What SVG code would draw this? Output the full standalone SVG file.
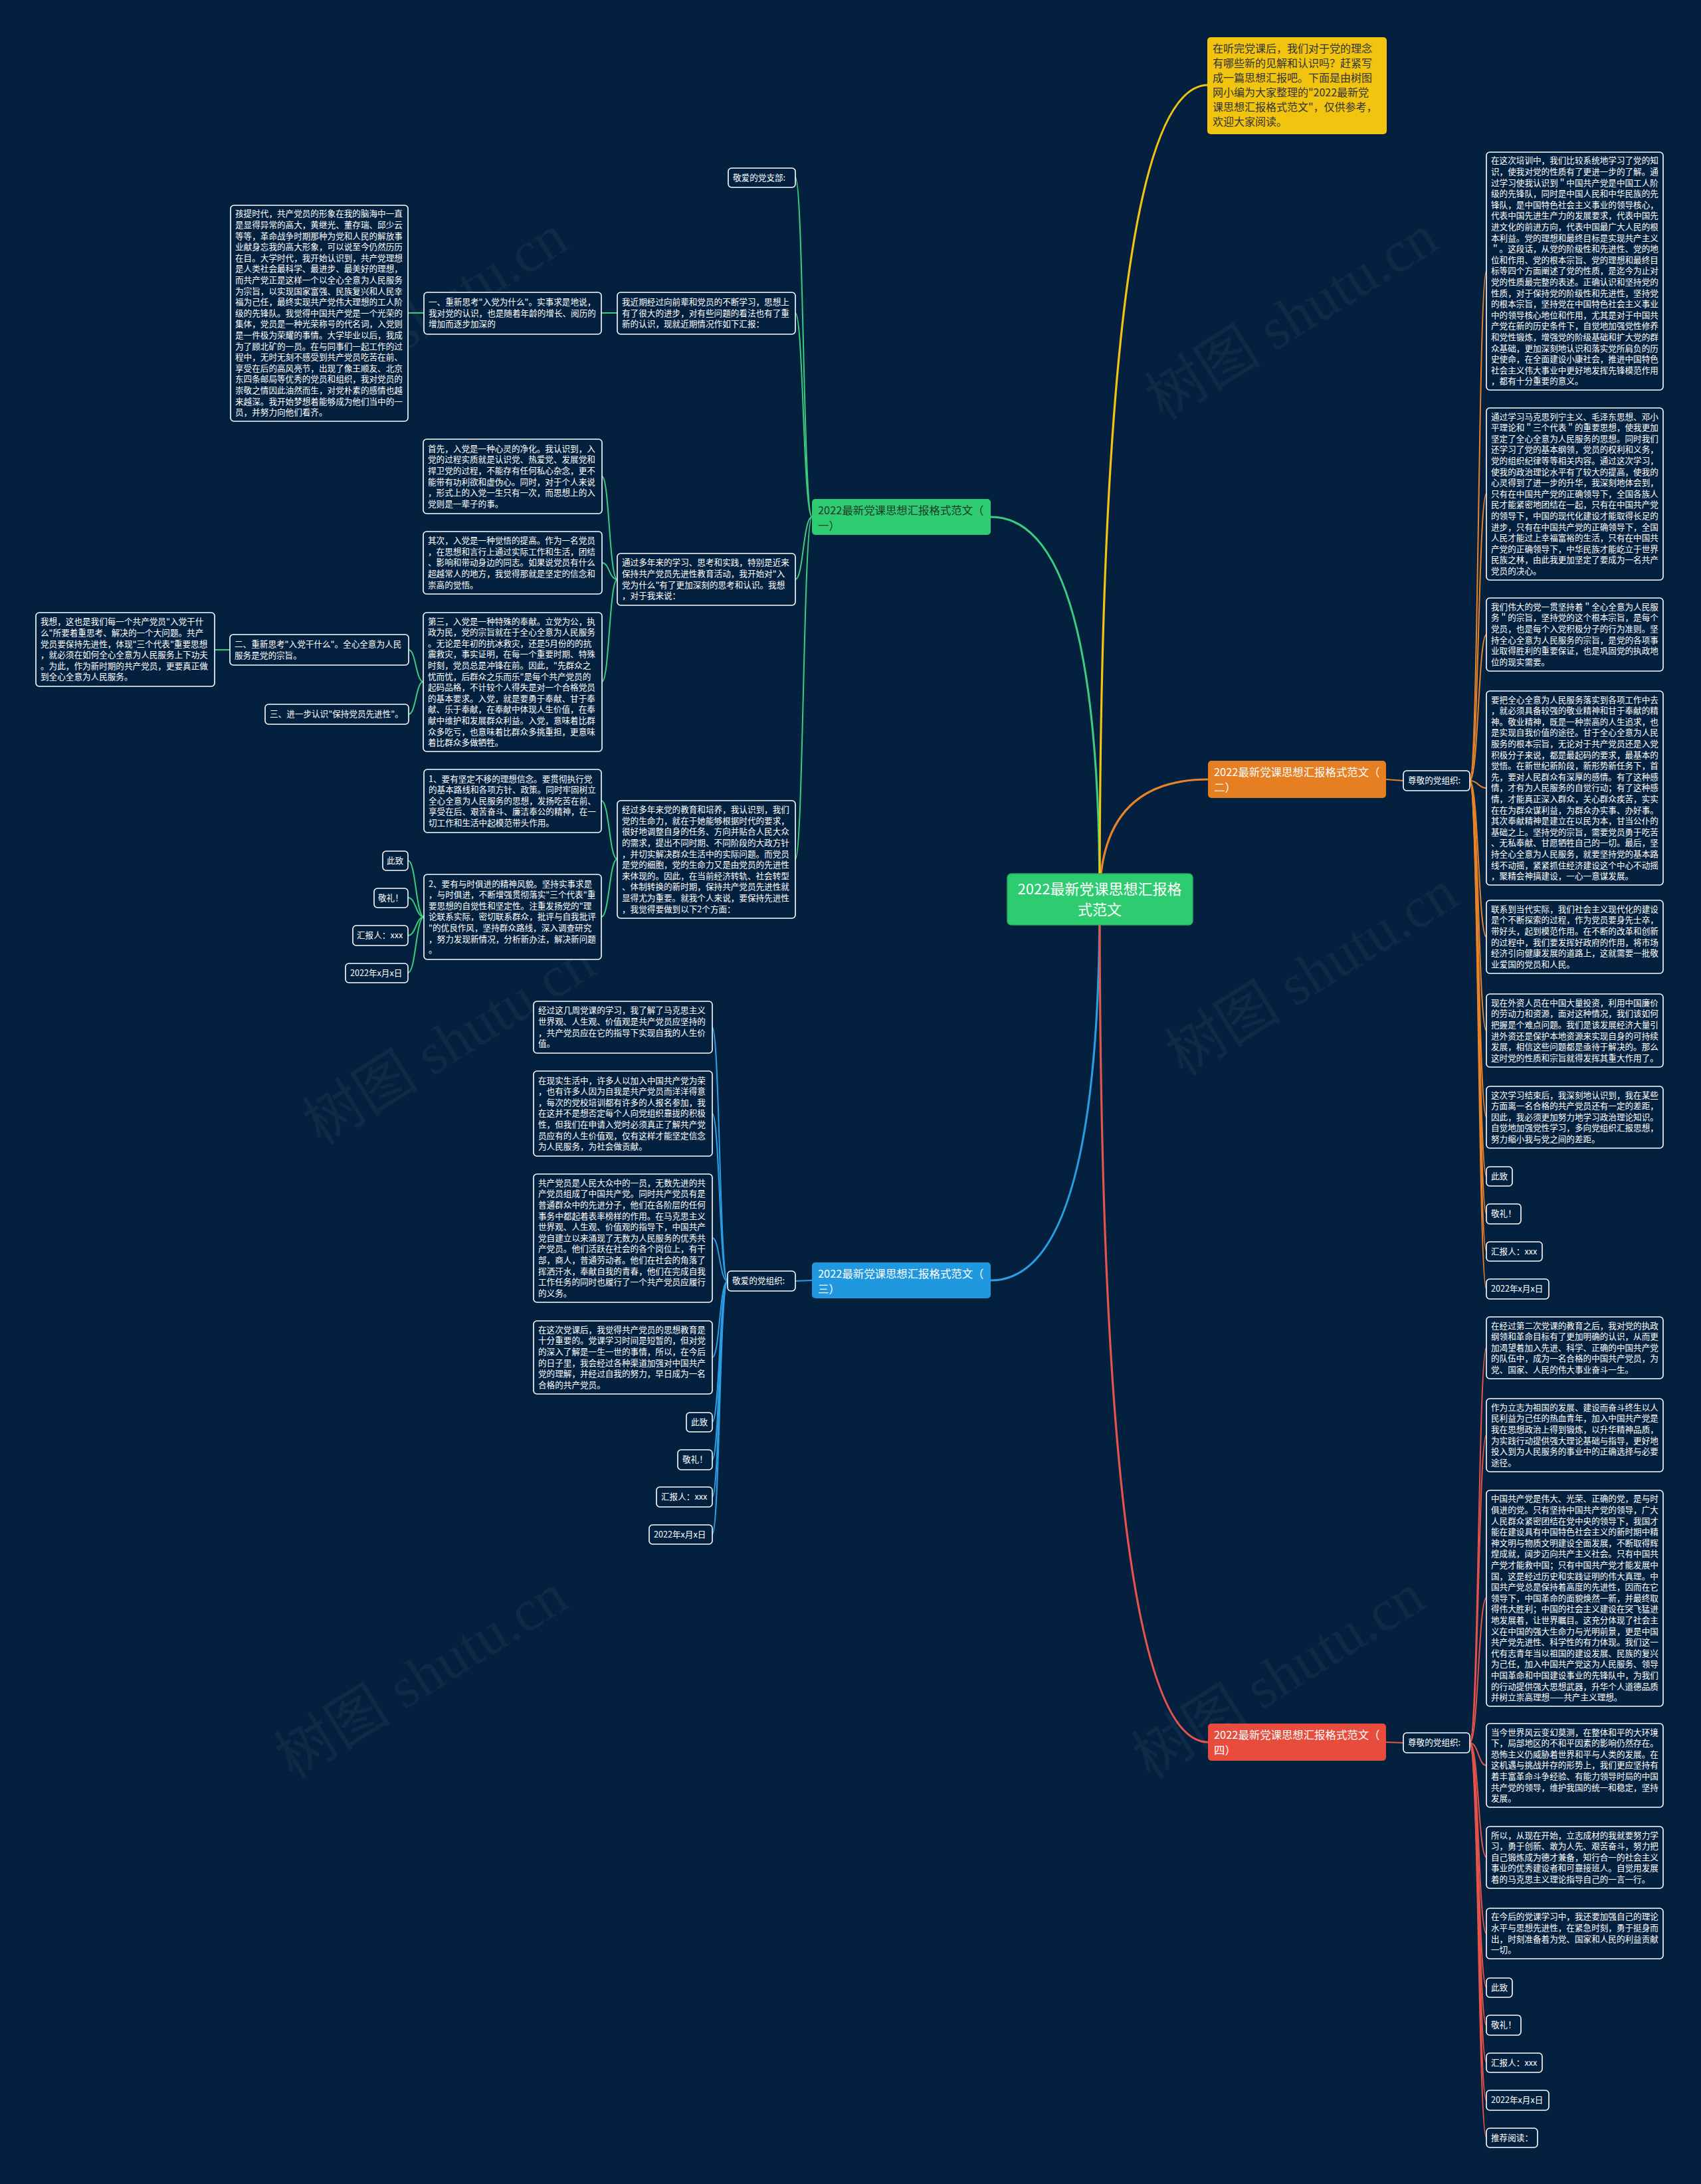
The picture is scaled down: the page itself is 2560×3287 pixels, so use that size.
<svg xmlns="http://www.w3.org/2000/svg" width="2560" height="3287" viewBox="0 0 2560 3287">
<style>
.bg{fill:#03213f}
.box{fill:#03213f;stroke:#ffffff;stroke-width:1.6}
.t{font-family:"Noto Sans CJK SC","Noto Sans",sans-serif;font-size:12.6px;fill:#ffffff}
.bt{font-family:"Noto Sans CJK SC","Noto Sans",sans-serif;font-size:16.4px}
.wm{font-family:"Liberation Serif","Noto Sans CJK SC",serif;font-size:88px;fill:#ffffff;fill-opacity:0.045}
.lg{fill:none;stroke:#3dcc7e;stroke-width:2}
.lo{fill:none;stroke:#e8832a;stroke-width:2}
.lb{fill:none;stroke:#2b9de3;stroke-width:2}
.lr{fill:none;stroke:#e5534a;stroke-width:2}
.main{stroke-width:3.2}
</style>
<rect class="bg" x="0" y="0" width="2560" height="3287"/>
<g id="watermarks">
<text class="wm" transform="translate(650,503) rotate(-32)" text-anchor="middle">树图 shutu.cn</text>
<text class="wm" transform="translate(1960,503) rotate(-32)" text-anchor="middle">树图 shutu.cn</text>
<text class="wm" transform="translate(692,1594) rotate(-32)" text-anchor="middle">树图 shutu.cn</text>
<text class="wm" transform="translate(1990,1490) rotate(-32)" text-anchor="middle">树图 shutu.cn</text>
<text class="wm" transform="translate(650,2548) rotate(-32)" text-anchor="middle">树图 shutu.cn</text>
<text class="wm" transform="translate(1940,2548) rotate(-32)" text-anchor="middle">树图 shutu.cn</text>
</g>
<g id="connectors">
<path class="lg main" d="M1655 1353 Q1655 778 1491 778"/>
<path class="lo main" d="M1655 1353 Q1655 1173 1818 1173"/>
<path class="lb main" d="M1655 1353 Q1655 1927 1491 1927"/>
<path class="lr main" d="M1655 1353 Q1655 2622 1818 2622"/>
<path fill="none" stroke="#f1c40f" stroke-width="3.2" d="M1655 1353 Q1655 128 1818 128"/>
<path class="lg" d="M1222 778 C1209 778 1209 267 1197 267"/>
<path class="lg" d="M1222 778 C1209 778 1209 471 1197 471"/>
<path class="lg" d="M1222 778 C1209 778 1209 872 1197 872"/>
<path class="lg" d="M1222 778 C1209 778 1209 1293 1197 1293"/>
<path class="lg" d="M929 471 L905 471"/>
<path class="lg" d="M638 471 L614 471"/>
<path class="lg" d="M929 872 C917 872 917 717 906 717"/>
<path class="lg" d="M929 872 C917 872 917 847 906 847"/>
<path class="lg" d="M929 872 C917 872 917 1026 906 1026"/>
<path class="lg" d="M637 1026 C626 1026 626 978 615 978"/>
<path class="lg" d="M637 1026 C626 1026 626 1075 615 1075"/>
<path class="lg" d="M346 978 L323 978"/>
<path class="lg" d="M929 1293 C917 1293 917 1205 905 1205"/>
<path class="lg" d="M929 1293 C917 1293 917 1380 905 1380"/>
<path class="lg" d="M638 1380 C626 1380 626 1295 614 1295"/>
<path class="lg" d="M638 1380 C626 1380 626 1351 614 1351"/>
<path class="lg" d="M638 1380 C626 1380 626 1408 614 1408"/>
<path class="lg" d="M638 1380 C626 1380 626 1464 614 1464"/>
<path class="lb" d="M1222 1927 L1197 1928"/>
<path class="lb" d="M1095 1928 C1083 1928 1083 1546 1072 1546"/>
<path class="lb" d="M1095 1928 C1083 1928 1083 1676 1072 1676"/>
<path class="lb" d="M1095 1928 C1083 1928 1083 1863 1072 1863"/>
<path class="lb" d="M1095 1928 C1083 1928 1083 2043 1072 2043"/>
<path class="lb" d="M1095 1928 C1083 1928 1083 2140 1072 2140"/>
<path class="lb" d="M1095 1928 C1083 1928 1083 2197 1072 2197"/>
<path class="lb" d="M1095 1928 C1083 1928 1083 2253 1072 2253"/>
<path class="lb" d="M1095 1928 C1083 1928 1083 2309 1072 2309"/>
<path class="lo" d="M2086 1173 L2112 1175"/>
<path class="lo" d="M2212 1175 C2225 1175 2225 408 2237 408"/>
<path class="lo" d="M2212 1175 C2225 1175 2225 743 2237 743"/>
<path class="lo" d="M2212 1175 C2225 1175 2225 955 2237 955"/>
<path class="lo" d="M2212 1175 C2225 1175 2225 1186 2237 1186"/>
<path class="lo" d="M2212 1175 C2225 1175 2225 1410 2237 1410"/>
<path class="lo" d="M2212 1175 C2225 1175 2225 1551 2237 1551"/>
<path class="lo" d="M2212 1175 C2225 1175 2225 1681 2237 1681"/>
<path class="lo" d="M2212 1175 C2225 1175 2225 1770 2237 1770"/>
<path class="lo" d="M2212 1175 C2225 1175 2225 1827 2237 1827"/>
<path class="lo" d="M2212 1175 C2225 1175 2225 1883 2237 1883"/>
<path class="lo" d="M2212 1175 C2225 1175 2225 1940 2237 1940"/>
<path class="lr" d="M2086 2622 L2112 2623"/>
<path class="lr" d="M2212 2623 C2225 2623 2225 2028 2237 2028"/>
<path class="lr" d="M2212 2623 C2225 2623 2225 2160 2237 2160"/>
<path class="lr" d="M2212 2623 C2225 2623 2225 2405 2237 2405"/>
<path class="lr" d="M2212 2623 C2225 2623 2225 2657 2237 2657"/>
<path class="lr" d="M2212 2623 C2225 2623 2225 2795 2237 2795"/>
<path class="lr" d="M2212 2623 C2225 2623 2225 2910 2237 2910"/>
<path class="lr" d="M2212 2623 C2225 2623 2225 2991 2237 2991"/>
<path class="lr" d="M2212 2623 C2225 2623 2225 3048 2237 3048"/>
<path class="lr" d="M2212 2623 C2225 2623 2225 3104 2237 3104"/>
<path class="lr" d="M2212 2623 C2225 2623 2225 3161 2237 3161"/>
<path class="lr" d="M2212 2623 C2225 2623 2225 3217 2237 3217"/>
</g>

<g id="root">
<rect x="1516" y="1315" width="279" height="77" rx="6" fill="#2ecc71" stroke="#27ae60" stroke-width="1.5"/>
<text font-family="Noto Sans CJK SC, sans-serif" font-size="22" fill="#ffffff" text-anchor="middle"><tspan x="1655" y="1346">2022最新党课思想汇报格</tspan><tspan x="1655" y="1377">式范文</tspan></text>
</g>
<g id="intro">
<rect x="1817" y="56" width="270" height="146" rx="5" fill="#f1c40f"/>
<text font-family="Noto Sans CJK SC, sans-serif" font-size="16" fill="#333333"><tspan x="1825" y="79">在听完党课后，我们对于党的理念</tspan><tspan x="1825" dy="21.9">有哪些新的见解和认识吗？赶紧写</tspan><tspan x="1825" dy="21.9">成一篇思想汇报吧。下面是由树图</tspan><tspan x="1825" dy="21.9">网小编为大家整理的"2022最新党</tspan><tspan x="1825" dy="21.9">课思想汇报格式范文"，仅供参考，</tspan><tspan x="1825" dy="21.9">欢迎大家阅读。</tspan></text>
</g>

<g id="b1">
<rect x="1222" y="751" width="269" height="54" rx="5" fill="#2ecc71"/>
<text class="bt" fill="#1d3a2a"><tspan x="1231" y="773.5">2022最新党课思想汇报格式范文（</tspan><tspan x="1231" dy="23">一）</tspan></text>
</g>
<g id="b2">
<rect x="1818" y="1145" width="268" height="56" rx="5" fill="#e67e22"/>
<text class="bt" fill="#ffffff"><tspan x="1827" y="1167.5">2022最新党课思想汇报格式范文（</tspan><tspan x="1827" dy="23">二）</tspan></text>
</g>
<g id="b3">
<rect x="1222" y="1900" width="269" height="54" rx="5" fill="#1f98e0"/>
<text class="bt" fill="#ffffff"><tspan x="1231" y="1922.5">2022最新党课思想汇报格式范文（</tspan><tspan x="1231" dy="23">三）</tspan></text>
</g>
<g id="b4">
<rect x="1818" y="2594" width="268" height="56" rx="5" fill="#e74c3c"/>
<text class="bt" fill="#ffffff"><tspan x="1827" y="2616.5">2022最新党课思想汇报格式范文（</tspan><tspan x="1827" dy="23">四）</tspan></text>
</g>

<g id="n1a"><rect class="box" x="1096" y="253" width="101" height="29" rx="5"/><text class="t"><tspan x="1103" y="271.8">敬爱的党支部:</tspan></text></g>
<g id="n1b"><rect class="box" x="929" y="440" width="268" height="63" rx="5"/><text class="t"><tspan x="936" y="459.2">我近期经过向前辈和党员的不断学习，思想上</tspan><tspan x="936" dy="16.6">有了很大的进步，对有些问题的看法也有了重</tspan><tspan x="936" dy="16.6">新的认识，现就近期情况作如下汇报：</tspan></text></g>
<g id="n1c"><rect class="box" x="638" y="440" width="267" height="63" rx="5"/><text class="t"><tspan x="645" y="459.2">一、重新思考"入党为什么"。实事求是地说，</tspan><tspan x="645" dy="16.6">我对党的认识，也是随着年龄的增长、阅历的</tspan><tspan x="645" dy="16.6">增加而逐步加深的</tspan></text></g>
<g id="n1d"><rect class="box" x="347" y="309" width="267" height="325" rx="5"/><text class="t"><tspan x="354" y="326.4">孩提时代，共产党员的形象在我的脑海中一直</tspan><tspan x="354" dy="16.6">是显得异常的高大，黄继光、董存瑞、邱少云</tspan><tspan x="354" dy="16.6">等等，革命战争时期那种为党和人民的解放事</tspan><tspan x="354" dy="16.6">业献身忘我的高大形象，可以说至今仍然历历</tspan><tspan x="354" dy="16.6">在目。大学时代，我开始认识到，共产党理想</tspan><tspan x="354" dy="16.6">是人类社会最科学、最进步、最美好的理想，</tspan><tspan x="354" dy="16.6">而共产党正是这样一个以全心全意为人民服务</tspan><tspan x="354" dy="16.6">为宗旨，以实现国家富强、民族复兴和人民幸</tspan><tspan x="354" dy="16.6">福为己任，最终实现共产党伟大理想的工人阶</tspan><tspan x="354" dy="16.6">级的先锋队。我觉得中国共产党是一个光荣的</tspan><tspan x="354" dy="16.6">集体，党员是一种光荣称号的代名词，入党则</tspan><tspan x="354" dy="16.6">是一件极为荣耀的事情。大学毕业以后，我成</tspan><tspan x="354" dy="16.6">为了顾北矿的一员。在与同事们一起工作的过</tspan><tspan x="354" dy="16.6">程中，无时无刻不感受到共产党员吃苦在前、</tspan><tspan x="354" dy="16.6">享受在后的高风亮节，出现了像王顺友、北京</tspan><tspan x="354" dy="16.6">东四条邮局等优秀的党员和组织，我对党员的</tspan><tspan x="354" dy="16.6">崇敬之情因此油然而生，对党朴素的感情也越</tspan><tspan x="354" dy="16.6">来越深。我开始梦想着能够成为他们当中的一</tspan><tspan x="354" dy="16.6">员，并努力向他们看齐。</tspan></text></g>
<g id="n1e"><rect class="box" x="929" y="833" width="268" height="78" rx="5"/><text class="t"><tspan x="936" y="851.4">通过多年来的学习、思考和实践，特别是近来</tspan><tspan x="936" dy="16.6">保持共产党员先进性教育活动，我开始对"入</tspan><tspan x="936" dy="16.6">党为什么"有了更加深刻的思考和认识。我想</tspan><tspan x="936" dy="16.6">，对于我来说：</tspan></text></g>
<g id="n1f"><rect class="box" x="637" y="661" width="269" height="112" rx="5"/><text class="t"><tspan x="644" y="679.8">首先，入党是一种心灵的净化。我认识到，入</tspan><tspan x="644" dy="16.6">党的过程实质就是认识党、热爱党、发展党和</tspan><tspan x="644" dy="16.6">捍卫党的过程，不能存有任何私心杂念，更不</tspan><tspan x="644" dy="16.6">能带有功利欲和虚伪心。同时，对于个人来说</tspan><tspan x="644" dy="16.6">，形式上的入党一生只有一次，而思想上的入</tspan><tspan x="644" dy="16.6">党则是一辈子的事。</tspan></text></g>
<g id="n1g"><rect class="box" x="637" y="800" width="269" height="94" rx="5"/><text class="t"><tspan x="644" y="818.1">其次，入党是一种觉悟的提高。作为一名党员</tspan><tspan x="644" dy="16.6">，在思想和言行上通过实际工作和生活，团结</tspan><tspan x="644" dy="16.6">、影响和带动身边的同志。如果说党员有什么</tspan><tspan x="644" dy="16.6">超越常人的地方，我觉得那就是坚定的信念和</tspan><tspan x="644" dy="16.6">崇高的觉悟。</tspan></text></g>
<g id="n1h"><rect class="box" x="637" y="922" width="269" height="209" rx="5"/><text class="t"><tspan x="644" y="939.5">第三，入党是一种特殊的奉献。立党为公，执</tspan><tspan x="644" dy="16.6">政为民，党的宗旨就在于全心全意为人民服务</tspan><tspan x="644" dy="16.6">。无论是年初的抗冰救灾，还是5月份的的抗</tspan><tspan x="644" dy="16.6">震救灾，事实证明，在每一个重要时期、特殊</tspan><tspan x="644" dy="16.6">时刻，党员总是冲锋在前。因此，"先群众之</tspan><tspan x="644" dy="16.6">忧而忧，后群众之乐而乐"是每个共产党员的</tspan><tspan x="644" dy="16.6">起码品格，不计较个人得失是对一个合格党员</tspan><tspan x="644" dy="16.6">的基本要求。入党，就是要勇于奉献、甘于奉</tspan><tspan x="644" dy="16.6">献、乐于奉献，在奉献中体现人生价值，在奉</tspan><tspan x="644" dy="16.6">献中维护和发展群众利益。入党，意味着比群</tspan><tspan x="644" dy="16.6">众多吃亏，也意味着比群众多挑重担，更意味</tspan><tspan x="644" dy="16.6">着比群众多做牺牲。</tspan></text></g>
<g id="n1i"><rect class="box" x="346" y="955" width="269" height="46" rx="5"/><text class="t"><tspan x="353" y="974">二、重新思考"入党干什么"。全心全意为人民</tspan><tspan x="353" dy="16.6">服务是党的宗旨。</tspan></text></g>
<g id="n1j"><rect class="box" x="399" y="1060" width="216" height="30" rx="5"/><text class="t"><tspan x="406" y="1079.3">三、进一步认识"保持党员先进性"。</tspan></text></g>
<g id="n1k"><rect class="box" x="54" y="922" width="269" height="111" rx="5"/><text class="t"><tspan x="61" y="940.3">我想，这也是我们每一个共产党员"入党干什</tspan><tspan x="61" dy="16.6">么"所要着重思考、解决的一个大问题。共产</tspan><tspan x="61" dy="16.6">党员要保持先进性，体现"三个代表"重要思想</tspan><tspan x="61" dy="16.6">，就必须在如何全心全意为人民服务上下功夫</tspan><tspan x="61" dy="16.6">。为此，作为新时期的共产党员，更要真正做</tspan><tspan x="61" dy="16.6">到全心全意为人民服务。</tspan></text></g>
<g id="n1l"><rect class="box" x="929" y="1205" width="268" height="177" rx="5"/><text class="t"><tspan x="936" y="1223.1">经过多年来党的教育和培养，我认识到，我们</tspan><tspan x="936" dy="16.6">党的生命力，就在于她能够根据时代的要求，</tspan><tspan x="936" dy="16.6">很好地调整自身的任务、方向并贴合人民大众</tspan><tspan x="936" dy="16.6">的需求，提出不同时期、不同阶段的大政方针</tspan><tspan x="936" dy="16.6">，并切实解决群众生活中的实际问题。而党员</tspan><tspan x="936" dy="16.6">是党的细胞，党的生命力又是由党员的先进性</tspan><tspan x="936" dy="16.6">来体现的。因此，在当前经济转轨、社会转型</tspan><tspan x="936" dy="16.6">、体制转换的新时期，保持共产党员先进性就</tspan><tspan x="936" dy="16.6">显得尤为重要。就我个人来说，要保持先进性</tspan><tspan x="936" dy="16.6">，我觉得要做到以下2个方面：</tspan></text></g>
<g id="n1m"><rect class="box" x="638" y="1158" width="267" height="95" rx="5"/><text class="t"><tspan x="645" y="1176.6">1、要有坚定不移的理想信念。要贯彻执行党</tspan><tspan x="645" dy="16.6">的基本路线和各项方针、政策。同时牢固树立</tspan><tspan x="645" dy="16.6">全心全意为人民服务的思想，发扬吃苦在前、</tspan><tspan x="645" dy="16.6">享受在后、艰苦奋斗、廉洁奉公的精神，在一</tspan><tspan x="645" dy="16.6">切工作和生活中起模范带头作用。</tspan></text></g>
<g id="n1n"><rect class="box" x="638" y="1316" width="267" height="128" rx="5"/><text class="t"><tspan x="645" y="1334.5">2、要有与时俱进的精神风貌。坚持实事求是</tspan><tspan x="645" dy="16.6">，与时俱进，不断增强贯彻落实"三个代表"重</tspan><tspan x="645" dy="16.6">要思想的自觉性和坚定性。注重发扬党的"理</tspan><tspan x="645" dy="16.6">论联系实际，密切联系群众，批评与自我批评</tspan><tspan x="645" dy="16.6">"的优良作风，坚持群众路线，深入调查研究</tspan><tspan x="645" dy="16.6">，努力发现新情况，分析新办法，解决新问题</tspan><tspan x="645" dy="16.6">。</tspan></text></g>
<g id="n1o"><rect class="box" x="576" y="1281" width="38" height="29" rx="5"/><text class="t"><tspan x="582" y="1299.8">此致</tspan></text></g>
<g id="n1p"><rect class="box" x="563" y="1337" width="51" height="29" rx="5"/><text class="t"><tspan x="569" y="1355.8">敬礼！</tspan></text></g>
<g id="n1q"><rect class="box" x="531" y="1393" width="83" height="30" rx="5"/><text class="t"><tspan x="537" y="1412.3">汇报人：xxx</tspan></text></g>
<g id="n1r"><rect class="box" x="520" y="1450" width="94" height="29" rx="5"/><text class="t"><tspan x="527" y="1468.8">2022年x月x日</tspan></text></g>

<g id="n3a"><rect class="box" x="1095" y="1913" width="102" height="30" rx="5"/><text class="t"><tspan x="1102" y="1932.3">敬爱的党组织:</tspan></text></g>
<g id="n3b"><rect class="box" x="803" y="1507" width="269" height="78" rx="5"/><text class="t"><tspan x="810" y="1525.4">经过这几周党课的学习，我了解了马克思主义</tspan><tspan x="810" dy="16.6">世界观、人生观、价值观是共产党员应坚持的</tspan><tspan x="810" dy="16.6">，共产党员应在它的指导下实现自我的人生价</tspan><tspan x="810" dy="16.6">值。</tspan></text></g>
<g id="n3c"><rect class="box" x="803" y="1612" width="269" height="128" rx="5"/><text class="t"><tspan x="810" y="1630.5">在现实生活中，许多人以加入中国共产党为荣</tspan><tspan x="810" dy="16.6">，也有许多人因为自我是共产党员而洋洋得意</tspan><tspan x="810" dy="16.6">，每次的党校培训都有许多的人报名参加，我</tspan><tspan x="810" dy="16.6">在这并不是想否定每个人向党组织靠拢的积极</tspan><tspan x="810" dy="16.6">性，但我们在申请入党时必须真正了解共产党</tspan><tspan x="810" dy="16.6">员应有的人生价值观，仅有这样才能坚定信念</tspan><tspan x="810" dy="16.6">为人民服务，为社会做贡献。</tspan></text></g>
<g id="n3d"><rect class="box" x="803" y="1767" width="269" height="193" rx="5"/><text class="t"><tspan x="810" y="1784.8">共产党员是人民大众中的一员，无数先进的共</tspan><tspan x="810" dy="16.6">产党员组成了中国共产党。同时共产党员有是</tspan><tspan x="810" dy="16.6">普通群众中的先进分子，他们在各阶层的任何</tspan><tspan x="810" dy="16.6">事务中都起着表率榜样的作用。在马克思主义</tspan><tspan x="810" dy="16.6">世界观、人生观、价值观的指导下，中国共产</tspan><tspan x="810" dy="16.6">党自建立以来涌现了无数为人民服务的优秀共</tspan><tspan x="810" dy="16.6">产党员。他们活跃在社会的各个岗位上，有干</tspan><tspan x="810" dy="16.6">部，商人，普通劳动者。他们在社会的角落了</tspan><tspan x="810" dy="16.6">挥洒汗水，奉献自我的青春，他们在完成自我</tspan><tspan x="810" dy="16.6">工作任务的同时也履行了一个共产党员应履行</tspan><tspan x="810" dy="16.6">的义务。</tspan></text></g>
<g id="n3e"><rect class="box" x="803" y="1988" width="269" height="110" rx="5"/><text class="t"><tspan x="810" y="2005.8">在这次党课后，我觉得共产党员的思想教育是</tspan><tspan x="810" dy="16.6">十分重要的。党课学习时间是短暂的，但对党</tspan><tspan x="810" dy="16.6">的深入了解是一生一世的事情，所以，在今后</tspan><tspan x="810" dy="16.6">的日子里，我会经过各种渠道加强对中国共产</tspan><tspan x="810" dy="16.6">党的理解，并经过自我的努力，早日成为一名</tspan><tspan x="810" dy="16.6">合格的共产党员。</tspan></text></g>
<g id="n3f"><rect class="box" x="1033" y="2126" width="39" height="29" rx="5"/><text class="t"><tspan x="1040" y="2144.8">此致</tspan></text></g>
<g id="n3g"><rect class="box" x="1020" y="2182" width="52" height="30" rx="5"/><text class="t"><tspan x="1027" y="2201.3">敬礼！</tspan></text></g>
<g id="n3h"><rect class="box" x="988" y="2238" width="84" height="30" rx="5"/><text class="t"><tspan x="995" y="2257.3">汇报人：xxx</tspan></text></g>
<g id="n3i"><rect class="box" x="977" y="2295" width="95" height="29" rx="5"/><text class="t"><tspan x="984" y="2313.8">2022年x月x日</tspan></text></g>

<g id="n2a"><rect class="box" x="2112" y="1160" width="100" height="30" rx="5"/><text class="t"><tspan x="2119" y="1179.3">尊敬的党组织:</tspan></text></g>
<g id="n2b"><rect class="box" x="2237" y="229" width="266" height="358" rx="5"/><text class="t"><tspan x="2244" y="246.3">在这次培训中，我们比较系统地学习了党的知</tspan><tspan x="2244" dy="16.6">识，使我对党的性质有了更进一步的了解。通</tspan><tspan x="2244" dy="16.6">过学习使我认识到＂中国共产党是中国工人阶</tspan><tspan x="2244" dy="16.6">级的先锋队，同时是中国人民和中华民族的先</tspan><tspan x="2244" dy="16.6">锋队，是中国特色社会主义事业的领导核心，</tspan><tspan x="2244" dy="16.6">代表中国先进生产力的发展要求，代表中国先</tspan><tspan x="2244" dy="16.6">进文化的前进方向，代表中国最广大人民的根</tspan><tspan x="2244" dy="16.6">本利益。党的理想和最终目标是实现共产主义</tspan><tspan x="2244" dy="16.6">＂。这段话，从党的阶级性和先进性、党的地</tspan><tspan x="2244" dy="16.6">位和作用、党的根本宗旨、党的理想和最终目</tspan><tspan x="2244" dy="16.6">标等四个方面阐述了党的性质，是迄今为止对</tspan><tspan x="2244" dy="16.6">党的性质最完整的表述。正确认识和坚持党的</tspan><tspan x="2244" dy="16.6">性质，对于保持党的阶级性和先进性，坚持党</tspan><tspan x="2244" dy="16.6">的根本宗旨，坚持党在中国特色社会主义事业</tspan><tspan x="2244" dy="16.6">中的领导核心地位和作用，尤其是对于中国共</tspan><tspan x="2244" dy="16.6">产党在新的历史条件下，自觉地加强党性修养</tspan><tspan x="2244" dy="16.6">和党性锻炼，增强党的阶级基础和扩大党的群</tspan><tspan x="2244" dy="16.6">众基础，更加深刻地认识和落实党所肩负的历</tspan><tspan x="2244" dy="16.6">史使命，在全面建设小康社会，推进中国特色</tspan><tspan x="2244" dy="16.6">社会主义伟大事业中更好地发挥先锋模范作用</tspan><tspan x="2244" dy="16.6">，都有十分重要的意义。</tspan></text></g>
<g id="n2c"><rect class="box" x="2237" y="614" width="266" height="259" rx="5"/><text class="t"><tspan x="2244" y="631.6">通过学习马克思列宁主义、毛泽东思想、邓小</tspan><tspan x="2244" dy="16.6">平理论和＂三个代表＂的重要思想，使我更加</tspan><tspan x="2244" dy="16.6">坚定了全心全意为人民服务的思想。同时我们</tspan><tspan x="2244" dy="16.6">还学习了党的基本纲领，党员的权利和义务，</tspan><tspan x="2244" dy="16.6">党的组织纪律等等相关内容。通过这次学习，</tspan><tspan x="2244" dy="16.6">使我的政治理论水平有了较大的提高，使我的</tspan><tspan x="2244" dy="16.6">心灵得到了进一步的升华，我深刻地体会到，</tspan><tspan x="2244" dy="16.6">只有在中国共产党的正确领导下，全国各族人</tspan><tspan x="2244" dy="16.6">民才能紧密地团结在一起，只有在中国共产党</tspan><tspan x="2244" dy="16.6">的领导下，中国的现代化建设才能取得长足的</tspan><tspan x="2244" dy="16.6">进步，只有在中国共产党的正确领导下，全国</tspan><tspan x="2244" dy="16.6">人民才能过上幸福富裕的生活，只有在中国共</tspan><tspan x="2244" dy="16.6">产党的正确领导下，中华民族才能屹立于世界</tspan><tspan x="2244" dy="16.6">民族之林，由此我更加坚定了要成为一名共产</tspan><tspan x="2244" dy="16.6">党员的决心。</tspan></text></g>
<g id="n2d"><rect class="box" x="2237" y="900" width="266" height="110" rx="5"/><text class="t"><tspan x="2244" y="917.8">我们伟大的党一贯坚持着＂全心全意为人民服</tspan><tspan x="2244" dy="16.6">务＂的宗旨，坚持党的这个根本宗旨，是每个</tspan><tspan x="2244" dy="16.6">党员，也是每个入党积极分子的行为准则。坚</tspan><tspan x="2244" dy="16.6">持全心全意为人民服务的宗旨，是党的各项事</tspan><tspan x="2244" dy="16.6">业取得胜利的重要保证，也是巩固党的执政地</tspan><tspan x="2244" dy="16.6">位的现实需要。</tspan></text></g>
<g id="n2e"><rect class="box" x="2237" y="1040" width="266" height="292" rx="5"/><text class="t"><tspan x="2244" y="1057.5">要把全心全意为人民服务落实到各项工作中去</tspan><tspan x="2244" dy="16.6">，就必须具备较强的敬业精神和甘于奉献的精</tspan><tspan x="2244" dy="16.6">神。敬业精神，既是一种崇高的人生追求，也</tspan><tspan x="2244" dy="16.6">是实现自我价值的途径。甘于全心全意为人民</tspan><tspan x="2244" dy="16.6">服务的根本宗旨，无论对于共产党员还是入党</tspan><tspan x="2244" dy="16.6">积极分子来说，都是最起码的要求，最基本的</tspan><tspan x="2244" dy="16.6">觉悟。在新世纪新阶段，新形势新任务下，首</tspan><tspan x="2244" dy="16.6">先，要对人民群众有深厚的感情。有了这种感</tspan><tspan x="2244" dy="16.6">情，才有为人民服务的自觉行动；有了这种感</tspan><tspan x="2244" dy="16.6">情，才能真正深入群众，关心群众疾苦，实实</tspan><tspan x="2244" dy="16.6">在在为群众谋利益，为群众办实事、办好事。</tspan><tspan x="2244" dy="16.6">其次奉献精神是建立在以民为本，甘当公仆的</tspan><tspan x="2244" dy="16.6">基础之上。坚持党的宗旨，需要党员勇于吃苦</tspan><tspan x="2244" dy="16.6">、无私奉献、甘愿牺牲自己的一切。最后，坚</tspan><tspan x="2244" dy="16.6">持全心全意为人民服务，就要坚持党的基本路</tspan><tspan x="2244" dy="16.6">线不动摇，紧紧抓住经济建设这个中心不动摇</tspan><tspan x="2244" dy="16.6">，聚精会神搞建设，一心一意谋发展。</tspan></text></g>
<g id="n2f"><rect class="box" x="2237" y="1355" width="266" height="110" rx="5"/><text class="t"><tspan x="2244" y="1372.8">联系到当代实际，我们社会主义现代化的建设</tspan><tspan x="2244" dy="16.6">是个不断探索的过程，作为党员要身先士卒，</tspan><tspan x="2244" dy="16.6">带好头，起到模范作用。在不断的改革和创新</tspan><tspan x="2244" dy="16.6">的过程中，我们要发挥好政府的作用，将市场</tspan><tspan x="2244" dy="16.6">经济引向健康发展的道路上，这就需要一批敬</tspan><tspan x="2244" dy="16.6">业爱国的党员和人民。</tspan></text></g>
<g id="n2g"><rect class="box" x="2237" y="1496" width="266" height="110" rx="5"/><text class="t"><tspan x="2244" y="1513.8">现在外资人员在中国大量投资，利用中国廉价</tspan><tspan x="2244" dy="16.6">的劳动力和资源，面对这种情况，我们该如何</tspan><tspan x="2244" dy="16.6">把握是个难点问题。我们是该发展经济大量引</tspan><tspan x="2244" dy="16.6">进外资还是保护本地资源来实现自身的可持续</tspan><tspan x="2244" dy="16.6">发展，相信这些问题都是亟待于解决的。那么</tspan><tspan x="2244" dy="16.6">这时党的性质和宗旨就得发挥其重大作用了。</tspan></text></g>
<g id="n2h"><rect class="box" x="2237" y="1635" width="266" height="93" rx="5"/><text class="t"><tspan x="2244" y="1652.6">这次学习结束后，我深刻地认识到，我在某些</tspan><tspan x="2244" dy="16.6">方面离一名合格的共产党员还有一定的差距，</tspan><tspan x="2244" dy="16.6">因此，我必须更加努力地学习政治理论知识。</tspan><tspan x="2244" dy="16.6">自觉地加强党性学习，多向党组织汇报思想，</tspan><tspan x="2244" dy="16.6">努力缩小我与党之间的差距。</tspan></text></g>
<g id="n2i"><rect class="box" x="2237" y="1756" width="39" height="29" rx="5"/><text class="t"><tspan x="2244" y="1774.8">此致</tspan></text></g>
<g id="n2j"><rect class="box" x="2237" y="1812" width="52" height="30" rx="5"/><text class="t"><tspan x="2244" y="1831.3">敬礼！</tspan></text></g>
<g id="n2k"><rect class="box" x="2237" y="1869" width="84" height="29" rx="5"/><text class="t"><tspan x="2244" y="1887.8">汇报人：xxx</tspan></text></g>
<g id="n2l"><rect class="box" x="2237" y="1925" width="94" height="30" rx="5"/><text class="t"><tspan x="2244" y="1944.3">2022年x月x日</tspan></text></g>

<g id="n4a"><rect class="box" x="2112" y="2608" width="100" height="30" rx="5"/><text class="t"><tspan x="2119" y="2627.3">尊敬的党组织:</tspan></text></g>
<g id="n4b"><rect class="box" x="2237" y="1982" width="266" height="93" rx="5"/><text class="t"><tspan x="2244" y="1999.6">在经过第二次党课的教育之后，我对党的执政</tspan><tspan x="2244" dy="16.6">纲领和革命目标有了更加明确的认识，从而更</tspan><tspan x="2244" dy="16.6">加渴望着加入先进、科学、正确的中国共产党</tspan><tspan x="2244" dy="16.6">的队伍中，成为一名合格的中国共产党员，为</tspan><tspan x="2244" dy="16.6">党、国家、人民的伟大事业奋斗一生。</tspan></text></g>
<g id="n4c"><rect class="box" x="2237" y="2105" width="266" height="110" rx="5"/><text class="t"><tspan x="2244" y="2122.8">作为立志为祖国的发展、建设而奋斗终生以人</tspan><tspan x="2244" dy="16.6">民利益为己任的热血青年，加入中国共产党是</tspan><tspan x="2244" dy="16.6">我在思想政治上得到锻炼，以升华精神品质，</tspan><tspan x="2244" dy="16.6">为实践行动提供强大理论基础与指导，更好地</tspan><tspan x="2244" dy="16.6">投入到为人民服务的事业中的正确选择与必要</tspan><tspan x="2244" dy="16.6">途径。</tspan></text></g>
<g id="n4d"><rect class="box" x="2237" y="2243" width="266" height="325" rx="5"/><text class="t"><tspan x="2244" y="2260.4">中国共产党是伟大、光荣、正确的党，是与时</tspan><tspan x="2244" dy="16.6">俱进的党。只有坚持中国共产党的领导，广大</tspan><tspan x="2244" dy="16.6">人民群众紧密团结在党中央的领导下，我国才</tspan><tspan x="2244" dy="16.6">能在建设具有中国特色社会主义的新时期中精</tspan><tspan x="2244" dy="16.6">神文明与物质文明建设全面发展，不断取得辉</tspan><tspan x="2244" dy="16.6">煌成就，阔步迈向共产主义社会。只有中国共</tspan><tspan x="2244" dy="16.6">产党才能救中国；只有中国共产党才能发展中</tspan><tspan x="2244" dy="16.6">国，这是经过历史和实践证明的伟大真理。中</tspan><tspan x="2244" dy="16.6">国共产党总是保持着高度的先进性，因而在它</tspan><tspan x="2244" dy="16.6">领导下，中国革命的面貌焕然一新，并最终取</tspan><tspan x="2244" dy="16.6">得伟大胜利；中国的社会主义建设在突飞猛进</tspan><tspan x="2244" dy="16.6">地发展着，让世界瞩目。这充分体现了社会主</tspan><tspan x="2244" dy="16.6">义在中国的强大生命力与光明前景，更是中国</tspan><tspan x="2244" dy="16.6">共产党先进性、科学性的有力体现。我们这一</tspan><tspan x="2244" dy="16.6">代有志青年当以祖国的建设发展、民族的复兴</tspan><tspan x="2244" dy="16.6">为己任，加入中国共产党这为人民服务、领导</tspan><tspan x="2244" dy="16.6">中国革命和中国建设事业的先锋队中，为我们</tspan><tspan x="2244" dy="16.6">的行动提供强大思想武器，升华个人道德品质</tspan><tspan x="2244" dy="16.6">并树立崇高理想——共产主义理想。</tspan></text></g>
<g id="n4e"><rect class="box" x="2237" y="2594" width="266" height="126" rx="5"/><text class="t"><tspan x="2244" y="2611.5">当今世界风云变幻莫测，在整体和平的大环境</tspan><tspan x="2244" dy="16.6">下，局部地区的不和平因素的影响仍然存在。</tspan><tspan x="2244" dy="16.6">恐怖主义仍威胁着世界和平与人类的发展。在</tspan><tspan x="2244" dy="16.6">这机遇与挑战并存的形势上，我们更应坚持有</tspan><tspan x="2244" dy="16.6">着丰富革命斗争经验、有能力领导时局的中国</tspan><tspan x="2244" dy="16.6">共产党的领导，维护我国的统一和稳定，坚持</tspan><tspan x="2244" dy="16.6">发展。</tspan></text></g>
<g id="n4f"><rect class="box" x="2237" y="2749" width="266" height="93" rx="5"/><text class="t"><tspan x="2244" y="2766.6">所以，从现在开始，立志成材的我就要努力学</tspan><tspan x="2244" dy="16.6">习，勇于创新、敢为人先、艰苦奋斗，努力把</tspan><tspan x="2244" dy="16.6">自己锻炼成为德才兼备，知行合一的社会主义</tspan><tspan x="2244" dy="16.6">事业的优秀建设者和可靠接班人。自觉用发展</tspan><tspan x="2244" dy="16.6">着的马克思主义理论指导自己的一言一行。</tspan></text></g>
<g id="n4g"><rect class="box" x="2237" y="2872" width="266" height="76" rx="5"/><text class="t"><tspan x="2244" y="2889.4">在今后的党课学习中，我还要加强自己的理论</tspan><tspan x="2244" dy="16.6">水平与思想先进性，在紧急时刻，勇于挺身而</tspan><tspan x="2244" dy="16.6">出，时刻准备着为党、国家和人民的利益贡献</tspan><tspan x="2244" dy="16.6">一切。</tspan></text></g>
<g id="n4h"><rect class="box" x="2237" y="2977" width="39" height="29" rx="5"/><text class="t"><tspan x="2244" y="2995.8">此致</tspan></text></g>
<g id="n4i"><rect class="box" x="2237" y="3033" width="52" height="30" rx="5"/><text class="t"><tspan x="2244" y="3052.3">敬礼！</tspan></text></g>
<g id="n4j"><rect class="box" x="2237" y="3090" width="84" height="29" rx="5"/><text class="t"><tspan x="2244" y="3108.8">汇报人：xxx</tspan></text></g>
<g id="n4k"><rect class="box" x="2237" y="3146" width="94" height="30" rx="5"/><text class="t"><tspan x="2244" y="3165.3">2022年x月x日</tspan></text></g>
<g id="n4l"><rect class="box" x="2237" y="3203" width="77" height="29" rx="5"/><text class="t"><tspan x="2244" y="3221.8">推荐阅读：</tspan></text></g>
</svg>
